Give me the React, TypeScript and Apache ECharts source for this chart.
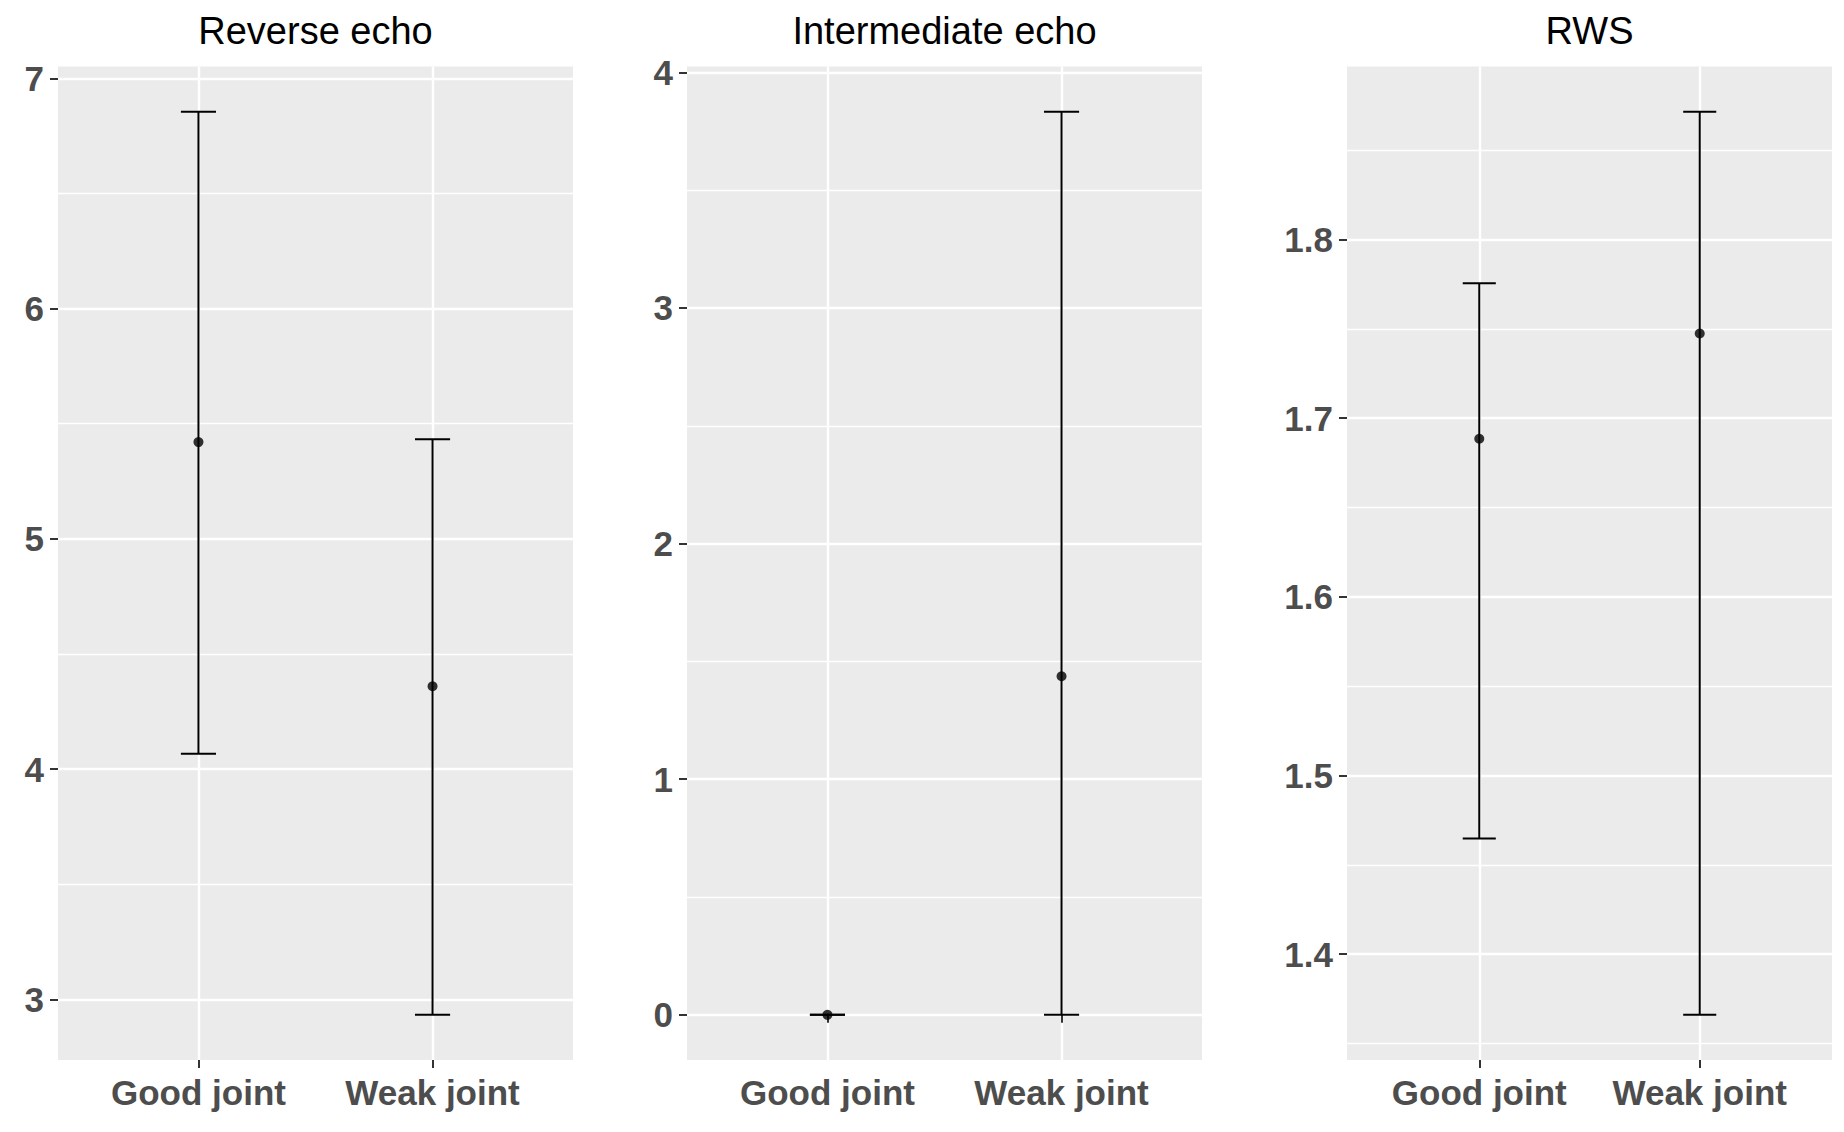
import React, { useEffect, useRef } from "react";
import * as echarts from "echarts";

const categories = ["Good joint", "Weak joint"];
const panelTitles = ["Reverse echo", "Intermediate echo", "RWS"];

const reverseMean = [5.42, 4.36];
const reverseLower = [4.067, 2.933];
const reverseUpper = [6.855, 5.432];

const intermMean = [0, 1.437];
const intermLower = [0, 0];
const intermUpper = [0, 3.833];

const rwsMean = [1.6885, 1.7474];
const rwsLower = [1.4647, 1.366];
const rwsUpper = [1.7755, 1.8716];

const reverseTicks = [3, 4, 5, 6, 7];
const reverseMinor = [3.5, 4.5, 5.5, 6.5];
const intermTicks = [0, 1, 2, 3, 4];
const intermMinor = [0.5, 1.5, 2.5, 3.5];
const rwsTicks = [1.4, 1.5, 1.6, 1.7, 1.8];
const rwsMinor = [1.35, 1.45, 1.55, 1.65, 1.75, 1.85];

const FONT = "'Liberation Sans', Arial, sans-serif";

export default function App() {
  const ref = useRef<HTMLDivElement>(null);
  useEffect(() => {
    document.body.style.margin = "0";
    if (!ref.current) return;
    const chart = echarts.init(ref.current, undefined, { renderer: "svg" });

    const panels = [
      { title: panelTitles[0], mean: reverseMean, lower: reverseLower, upper: reverseUpper, ticks: reverseTicks, minor: reverseMinor },
      { title: panelTitles[1], mean: intermMean, lower: intermLower, upper: intermUpper, ticks: intermTicks, minor: intermMinor },
      { title: panelTitles[2], mean: rwsMean, lower: rwsLower, upper: rwsUpper, ticks: rwsTicks, minor: rwsMinor },
    ];
    const layout = [
      { left: 58, width: 515 },
      { left: 687, width: 515 },
      { left: 1347, width: 485 },
    ];
    const top = 66.5;
    const height = 993.5;

    const grid: any[] = [];
    const xAxis: any[] = [];
    const yAxis: any[] = [];
    const series: any[] = [];
    const graphic: any[] = [];

    panels.forEach((p, i) => {
      const lo = Math.min(...p.lower);
      const hi = Math.max(...p.upper);
      const pad = (hi - lo) * 0.05;
      const yMin = lo - pad;
      const yMax = hi + pad;
      grid.push({
        left: layout[i].left,
        width: layout[i].width,
        top,
        height,
        show: true,
        backgroundColor: "#EBEBEB",
        borderWidth: 0,
        containLabel: false,
        outerBoundsMode: "none",
      });
      xAxis.push({
        type: "value",
        gridIndex: i,
        min: 0.4,
        max: 2.6,
        axisLine: { show: false },
        axisTick: { show: true, customValues: [1, 2], length: 8, lineStyle: { color: "#333333", width: 2 } },
        axisLabel: {
          customValues: [1, 2],
          formatter: (v: number) => categories[Math.round(v) - 1],
          color: "#4D4D4D",
          fontFamily: FONT,
          fontWeight: "bold",
          fontSize: 35,
          margin: 15,
        },
        splitLine: { show: true, lineStyle: { color: "#FFFFFF", width: 2.4 } },
      });
      // major y axis
      yAxis.push({
        type: "value",
        gridIndex: i,
        min: yMin,
        max: yMax,
        axisLine: { show: false },
        axisTick: { show: true, customValues: p.ticks, length: 8, lineStyle: { color: "#333333", width: 2 } },
        axisLabel: {
          customValues: p.ticks,
          color: "#4D4D4D",
          fontFamily: FONT,
          fontWeight: "bold",
          fontSize: 35,
          margin: 14,
        },
        splitLine: { show: true, lineStyle: { color: "#FFFFFF", width: 2.4 } },
      });
      // minor y axis (gridlines only)
      yAxis.push({
        type: "value",
        gridIndex: i,
        min: yMin,
        max: yMax,
        axisLine: { show: false },
        axisTick: { show: false, customValues: p.minor },
        axisLabel: { show: false, customValues: p.minor },
        splitLine: { show: true, lineStyle: { color: "#FFFFFF", width: 1.3 } },
      });

      const barData = categories.map((_, k) => [k + 1, p.lower[k], p.upper[k]]);
      series.push({
        type: "custom",
        xAxisIndex: i,
        yAxisIndex: i * 2,
        data: barData,
        encode: { x: 0, y: [1, 2] },
        z: 3,
        renderItem: (params: any, api: any) => {
          const x = api.value(0);
          const l = api.value(1);
          const h = api.value(2);
          const pl = api.coord([x, l]);
          const ph = api.coord([x, h]);
          const hw = api.size([0.15, 0])[0] / 2;
          const style = { stroke: "#000000", lineWidth: 2 };
          return {
            type: "group",
            children: [
              { type: "line", shape: { x1: ph[0], y1: ph[1], x2: pl[0], y2: pl[1] }, style },
              { type: "line", shape: { x1: ph[0] - hw, y1: ph[1], x2: ph[0] + hw, y2: ph[1] }, style },
              { type: "line", shape: { x1: pl[0] - hw, y1: pl[1], x2: pl[0] + hw, y2: pl[1] }, style },
            ],
          };
        },
      });
      series.push({
        type: "scatter",
        xAxisIndex: i,
        yAxisIndex: i * 2,
        data: categories.map((_, k) => [k + 1, p.mean[k]]),
        symbol: "circle",
        symbolSize: 10,
        itemStyle: { color: "#000000" },
        z: 4,
      });
      graphic.push({
        type: "text",
        x: layout[i].left + layout[i].width / 2,
        y: 31,
        style: {
          text: p.title,
          align: "center",
          verticalAlign: "middle",
          fontFamily: FONT,
          fontSize: 38,
          fill: "#000000",
        },
      });
    });

    chart.setOption({
      animation: false,
      backgroundColor: "#FFFFFF",
      grid,
      xAxis,
      yAxis,
      series,
      graphic,
    });
    return () => chart.dispose();
  }, []);
  return <div ref={ref} style={{ width: 1844, height: 1132 }} />;
}
